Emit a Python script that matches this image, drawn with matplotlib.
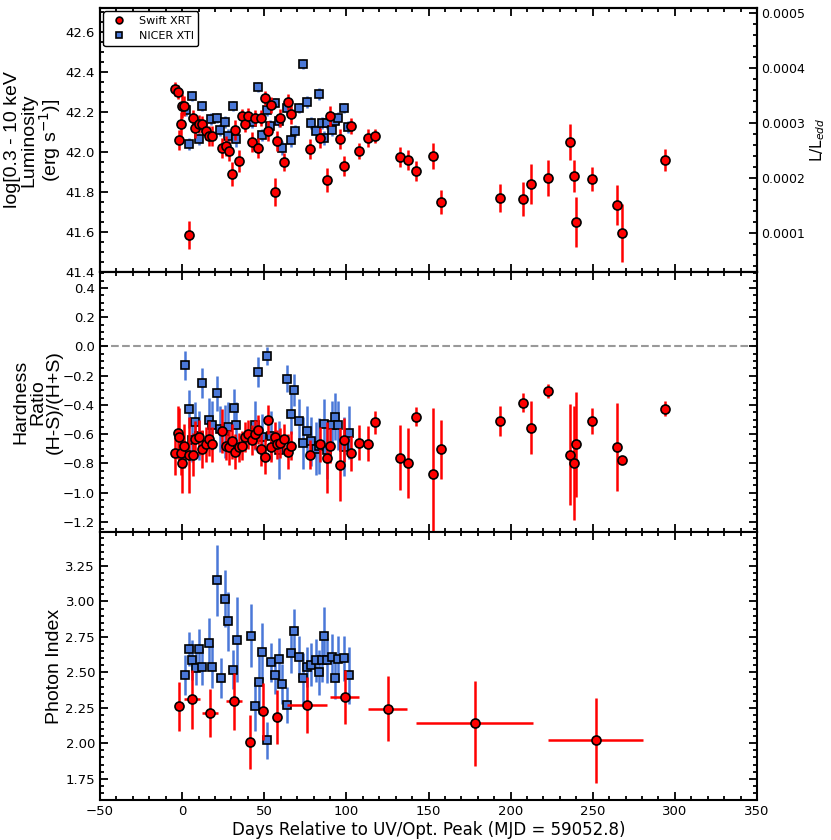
import numpy as np
import matplotlib
matplotlib.use("Agg")
import matplotlib.pyplot as plt
from matplotlib.ticker import AutoMinorLocator, MultipleLocator

# Swift XRT: dias respecto al pico, luminosidad y cociente de dureza
swift_t = [-4.1, -2.65, -1.7, -0.4, 0.0, 1.3, 3.9,
           6.7, 8.1, 10.1, 12.1, 14.4, 16.2, 18.1,
           24.4, 26.6, 28.7, 30.6, 32.5, 34.4, 36.4, 38.4, 40.2, 42.6, 44.6,
           46.3, 48.3, 50.2, 52.5, 54.4, 56.3, 57.9, 59.3, 62.2, 64.4, 66.1,
           77.7, 84.0, 88.5, 90.1, 96.0, 98.4, 102.7, 107.8, 113.0, 117.4,
           132.7, 137.6, 142.5, 152.9, 157.6, 193.7, 207.7, 212.2, 222.8,
           235.9, 238.7, 240.0, 249.7, 264.8, 267.7, 294.2]
swift_lum = [42.315, 42.30, 42.06, 42.14, 42.23, 42.23, 41.585,
             42.17, 42.12, 42.14, 42.14, 42.105, 42.08, 42.08,
             42.02, 42.03, 42.005, 41.89, 42.11, 41.955, 42.18, 42.14, 42.18, 42.05, 42.17,
             42.02, 42.17, 42.27, 42.105, 42.235, 41.80, 42.055, 42.17, 41.95, 42.25, 42.19,
             42.015, 42.07, 41.86, 42.18, 42.065, 41.93, 42.13, 42.005, 42.07, 42.08,
             41.975, 41.96, 41.905, 41.98, 41.75, 41.77, 41.765, 41.84, 41.87,
             42.05, 41.88, 41.65, 41.865, 41.735, 41.595, 41.96]
swift_lum_err = [0.035, 0.035, 0.05, 0.06, 0.06, 0.05, 0.07,
                 0.04, 0.05, 0.045, 0.04, 0.045, 0.05, 0.05,
                 0.05, 0.05, 0.05, 0.06, 0.05, 0.055, 0.035, 0.04, 0.04, 0.05, 0.04,
                 0.05, 0.04, 0.035, 0.05, 0.04, 0.07, 0.05, 0.045, 0.045, 0.04, 0.05,
                 0.05, 0.05, 0.06, 0.05, 0.05, 0.05, 0.04, 0.04, 0.045, 0.035,
                 0.05, 0.05, 0.05, 0.065, 0.06, 0.07, 0.085, 0.1, 0.09,
                 0.09, 0.08, 0.125, 0.06, 0.1, 0.146, 0.055]
swift_hr = [-0.73, -0.59, -0.62, -0.73, -0.80, -0.68, -0.745,
            -0.74, -0.63, -0.62, -0.70, -0.67, -0.63, -0.67,
            -0.58, -0.68, -0.69, -0.65, -0.72, -0.69, -0.68, -0.62, -0.60, -0.64, -0.60,
            -0.57, -0.70, -0.755, -0.50, -0.69, -0.62, -0.67, -0.66, -0.63, -0.72, -0.68,
            -0.74, -0.67, -0.76, -0.68, -0.81, -0.64, -0.73, -0.66, -0.665, -0.52,
            -0.76, -0.795, -0.48, -0.87, -0.705, -0.51, -0.385, -0.555, -0.305,
            -0.74, -0.795, -0.67, -0.51, -0.69, -0.78, -0.425]
swift_hr_err = [0.15, 0.18, 0.2, 0.15, 0.2, 0.15, 0.26,
                0.15, 0.12, 0.12, 0.13, 0.12, 0.12, 0.12,
                0.15, 0.1, 0.12, 0.12, 0.12, 0.1, 0.1, 0.1, 0.1, 0.1, 0.1,
                0.1, 0.12, 0.12, 0.1, 0.1, 0.1, 0.1, 0.1, 0.1, 0.12, 0.1,
                0.1, 0.12, 0.24, 0.12, 0.25, 0.15, 0.12, 0.12, 0.12, 0.08,
                0.22, 0.24, 0.065, 0.45, 0.2, 0.1, 0.065, 0.18, 0.045,
                0.345, 0.39, 0.36, 0.086, 0.3, 0.02, 0.05]

# Swift XRT: indice de fotones (espectros agrupados)
swift_t_gam = [-1.6, 6.1, 17.1, 31.6, 41.2, 49.5, 57.9, 76.0, 98.9, 125.2, 178.0, 251.8]
swift_t_gam_err = [1.0, 4.9, 5.0, 5.0, 2.2, 2.0, 2.0, 12.4, 9.0, 12.0, 35.4, 29.0]
swift_gam = [2.26, 2.31, 2.215, 2.295, 2.01, 2.225, 2.185, 2.27, 2.325, 2.245, 2.14, 2.02]
swift_gam_err = [0.17, 0.21, 0.17, 0.2, 0.19, 0.2, 0.19, 0.2, 0.19, 0.23, 0.3, 0.3]

# NICER XTI
nicer_t_lum = [2.2, 3.9, 6.1, 10.0, 12.0, 17.5, 21.2, 23.2, 25.9, 27.9, 31.0, 33.0,
               42.6, 46.3, 48.7, 51.4, 53.8, 56.5, 58.9, 61.0, 63.6, 66.1, 68.5,
               71.1, 73.8, 75.8, 78.3, 81.3, 83.4, 85.0, 86.4, 88.5, 91.5, 93.0,
               95.2, 98.3, 101.1]
nicer_lum = [42.21, 42.04, 42.28, 42.065, 42.23, 42.165, 42.17, 42.11, 42.15, 42.08,
             42.23, 42.065, 42.15, 42.325, 42.085, 42.21, 42.13, 42.245, 42.155, 42.02,
             42.22, 42.06, 42.105, 42.22, 42.44, 42.25, 42.145, 42.105, 42.29, 42.145,
             42.07, 42.145, 42.11, 42.155, 42.17, 42.22, 42.125]
nicer_lum_err = [0.03, 0.03, 0.025, 0.03, 0.025, 0.03, 0.025, 0.03, 0.03, 0.035,
                 0.025, 0.04, 0.03, 0.025, 0.03, 0.03, 0.03, 0.025, 0.03, 0.035,
                 0.03, 0.035, 0.03, 0.025, 0.025, 0.03, 0.03, 0.03, 0.03, 0.03,
                 0.035, 0.03, 0.03, 0.03, 0.03, 0.025, 0.03]

nicer_t_hr = [2.0, 4.1, 5.9, 8.0, 10.0, 12.0, 16.1, 17.9, 21.2, 23.2, 25.9, 27.9,
              31.4, 33.0, 44.4, 46.5, 48.5, 51.4, 54.0, 58.9, 63.6, 66.3, 68.3,
              71.1, 73.8, 75.8, 78.3, 81.5, 83.6, 86.2, 88.5, 91.1, 93.2, 95.2,
              98.7, 101.3]
nicer_hr = [-0.13, -0.43, -0.64, -0.52, -0.61, -0.25, -0.50, -0.54, -0.32, -0.565,
            -0.58, -0.55, -0.42, -0.54, -0.54, -0.175, -0.62, -0.065, -0.61, -0.71,
            -0.22, -0.46, -0.30, -0.51, -0.66, -0.58, -0.65, -0.70, -0.68, -0.53,
            -0.71, -0.54, -0.48, -0.54, -0.685, -0.59]
nicer_hr_err = [0.1, 0.13, 0.15, 0.14, 0.17, 0.1, 0.15, 0.17, 0.12, 0.16,
                0.18, 0.17, 0.13, 0.16, 0.17, 0.1, 0.16, 0.06, 0.17, 0.2,
                0.09, 0.14, 0.11, 0.15, 0.18, 0.17, 0.17, 0.18, 0.19, 0.17,
                0.2, 0.17, 0.16, 0.17, 0.2, 0.18]

nicer_t_gam = [2.0, 4.1, 6.1, 8.2, 10.2, 12.0, 16.1, 17.9, 21.2, 23.4, 26.1, 27.9,
               31.2, 33.2, 42.0, 44.6, 46.7, 48.5, 51.6, 54.0, 56.3, 58.9, 61.0,
               63.6, 66.2, 68.3, 71.1, 73.8, 75.8, 78.3, 81.5, 83.6, 85.2, 86.4,
               88.5, 91.3, 92.9, 95.2, 98.5, 101.3]
nicer_gam = [2.48, 2.665, 2.585, 2.53, 2.665, 2.54, 2.705, 2.54, 3.15, 2.46,
             3.02, 2.86, 2.52, 2.73, 2.76, 2.26, 2.43, 2.645, 2.02, 2.57,
             2.48, 2.595, 2.42, 2.27, 2.635, 2.79, 2.61, 2.46, 2.54, 2.555,
             2.585, 2.50, 2.585, 2.76, 2.585, 2.61, 2.46, 2.595, 2.60, 2.48]
nicer_gam_err = [0.14, 0.12, 0.14, 0.12, 0.14, 0.13, 0.18, 0.15, 0.25, 0.14,
                 0.2, 0.21, 0.14, 0.3, 0.22, 0.17, 0.22, 0.2, 0.13, 0.14,
                 0.13, 0.15, 0.14, 0.13, 0.14, 0.16, 0.15, 0.18, 0.14, 0.15,
                 0.15, 0.16, 0.15, 0.2, 0.16, 0.16, 0.15, 0.16, 0.16, 0.2]

red = "#ff0000"
blue = "#4a78d8"
label_font = dict(fontsize=14, family="Liberation Sans", linespacing=0.95)

fig = plt.figure(figsize=(8.31, 8.4), dpi=100)
gs = fig.add_gridspec(3, 1, height_ratios=[264, 260, 268], hspace=0,
                      left=0.1203, right=0.911, top=0.9905, bottom=0.0476)
ax1 = fig.add_subplot(gs[0])
ax2 = fig.add_subplot(gs[1], sharex=ax1)
ax3 = fig.add_subplot(gs[2], sharex=ax1)

nicer_kw = dict(fmt="s", color=blue, mec="black", mew=1.2, ms=6, ecolor=blue,
                elinewidth=1.8, capsize=0, label="NICER XTI")
swift_kw = dict(fmt="o", color=red, mec="black", mew=1.2, ms=6.5, ecolor=red,
                elinewidth=1.8, capsize=0, label="Swift XRT")

# panel superior: luminosidad
n1 = ax1.errorbar(nicer_t_lum, nicer_lum, yerr=nicer_lum_err, zorder=2, **nicer_kw)
s1 = ax1.errorbar(swift_t, swift_lum, yerr=swift_lum_err, zorder=3, **swift_kw)
ax1.set_ylim(41.4, 42.72)
ax1.set_ylabel("log[0.3 - 10 keV\nLuminosity\n(erg s$^{-1}$)]", **label_font)
ax1.legend([s1[0], n1[0]], ["Swift XRT", "NICER XTI"], loc="upper left",
           fontsize=8, markerscale=0.75, handletextpad=0.8, borderpad=0.4,
           framealpha=1, edgecolor="black", borderaxespad=0.3)

ax1r = ax1.twinx()
ax1r.set_ylim(0.0000285, 0.000509)
ax1r.yaxis.set_major_locator(MultipleLocator(0.0001))
ax1r.yaxis.set_minor_locator(AutoMinorLocator(5))
ax1r.set_ylabel(r"L/L$_{edd}$", fontsize=11, labelpad=2)
ax1r.tick_params(which="both", direction="in", labelsize=9, width=1.3, pad=3)
ax1r.tick_params(which="major", length=6)
ax1r.tick_params(which="minor", length=3)
for sp in ax1r.spines.values():
    sp.set_linewidth(1.5)

# panel medio: cociente de dureza
ax2.errorbar(nicer_t_hr, nicer_hr, yerr=nicer_hr_err, zorder=2, **nicer_kw)
ax2.errorbar(swift_t, swift_hr, yerr=swift_hr_err, zorder=3, **swift_kw)
ax2.axhline(0.0, color="#999999", ls="--", lw=1.5, zorder=1)
ax2.set_ylim(-1.27, 0.51)
ax2.set_ylabel("Hardness\nRatio\n(H-S)/(H+S)", **label_font)

# panel inferior: indice de fotones
ax3.errorbar(nicer_t_gam, nicer_gam, yerr=nicer_gam_err, zorder=2, **nicer_kw)
ax3.errorbar(swift_t_gam, swift_gam, xerr=swift_t_gam_err, yerr=swift_gam_err,
             zorder=3, **swift_kw)
ax3.set_ylim(1.6, 3.49)
ax3.yaxis.set_major_locator(MultipleLocator(0.25))
ax3.set_ylabel("Photon Index", **label_font)
ax3.set_xlabel("Days Relative to UV/Opt. Peak (MJD = 59052.8)", fontsize=12, labelpad=2)

ax1.set_xlim(-50, 350)
ax3.xaxis.set_major_locator(MultipleLocator(50))
ax3.xaxis.set_minor_locator(AutoMinorLocator(5))

for ax in (ax1, ax2, ax3):
    ax.yaxis.set_minor_locator(AutoMinorLocator())
    ax.tick_params(which="both", direction="in", top=True, labelsize=9.5, width=1.3)
    ax.tick_params(which="major", length=6)
    ax.tick_params(which="minor", length=3)
    for sp in ax.spines.values():
        sp.set_linewidth(1.5)
    ax.yaxis.set_label_coords(-0.057, 0.5)
ax2.tick_params(which="both", right=True)
ax3.tick_params(which="both", right=True)
ax1.tick_params(labelbottom=False)
ax2.tick_params(labelbottom=False)

fig.savefig("out.png", dpi=100)
